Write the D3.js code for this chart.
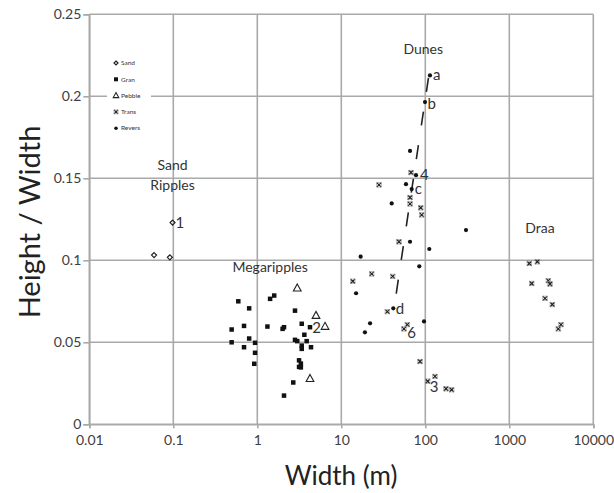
<!DOCTYPE html>
<html><head><meta charset="utf-8">
<script src="https://cdn.jsdelivr.net/npm/d3@7/dist/d3.min.js"></script>
<style>
body{margin:0;background:#fff;}
text{font-family:Lato,"Open Sans",sans-serif;}
</style></head>
<body><svg id="c" width="614" height="493"></svg>
<script>
const xTicks = [0.01, 0.1, 1, 10, 100, 1000, 10000];
const xTickLabels = ["0.01", "0.1", "1", "10", "100", "1000", "10000"];
const yTicks = [0, 0.05, 0.1, 0.15, 0.2, 0.25];
const yTickLabels = ["0", "0.05", "0.1", "0.15", "0.2", "0.25"];

const sand = [[0.059,0.1032],[0.091,0.1018],[0.098,0.123]];
const gran = [[0.594,0.075],[0.80,0.0707],[1.42,0.0765],[1.59,0.0785],[2.81,0.0693],[0.495,0.0578],[0.695,0.060],[1.32,0.0596],[2.00,0.0582],[2.08,0.0592],[3.38,0.0613],[4.24,0.0592],[0.495,0.050],[0.695,0.047],[0.80,0.0523],[0.94,0.0497],[0.94,0.0436],[0.92,0.0369],[2.81,0.0515],[2.99,0.0507],[3.38,0.048],[3.38,0.046],[3.87,0.0507],[3.63,0.0546],[4.36,0.047],[3.14,0.039],[3.3,0.037],[3.14,0.035],[3.3,0.0347],[2.68,0.0255],[2.08,0.0175]];
const pebble = [[2.99,0.083],[5.00,0.0663],[6.40,0.0596],[4.24,0.0278]];
const trans = [[67.6,0.1535],[28.1,0.146],[65.8,0.1383],[65.8,0.1344],[88.2,0.132],[90.6,0.1277],[48.6,0.1113],[23.0,0.0917],[40.9,0.0902],[13.7,0.0872],[35.3,0.0687],[61.1,0.0608],[55.7,0.0582],[86.5,0.0383],[106.9,0.0263],[130.4,0.0292],[176.3,0.0217],[206,0.0211],
  [1730,0.0981],[2155,0.0991],[1848,0.0859],[2912,0.0876],[3052,0.0856],[2661,0.0768],[3250,0.073],[3830,0.0582],[4124,0.0608]];
const revers = [[113.7,0.2127],[99.2,0.1965],[65.8,0.1667],[77.5,0.1519],[58.9,0.1464],[68.9,0.1434],[39.8,0.1347],[305,0.1184],[65.8,0.1113],[111.6,0.1069],[17.0,0.1022],[84.8,0.0963],[15.0,0.0799],[41.6,0.0707],[22.0,0.0616],[96.5,0.0627],[19.1,0.0561]];
const trendLine = [[109,0.2112],[43.0,0.0727]];
const pointLabels = [["1",0.120,0.1229],["2",5.09,0.0589],["3",127,0.0229],["4",97.3,0.152],["6",68.9,0.0559],["a",136.7,0.2134],["b",119,0.1957],["c",82.6,0.1435],["d",50.0,0.0707]];
const regionLabels = [["Sand",0.098,0.1581],["Ripples",0.098,0.1459],["Megaripples",1.42,0.0961],["Dunes",94.6,0.2287],["Draa",2318,0.1195]];
const legendNames = ["Sand","Gran","Pebble","Trans","Revers"];

const svg = d3.select("#c");
const x = d3.scaleLog().domain([0.01,10000]).range([89.3,593.3]);
const y = d3.scaleLinear().domain([0,0.25]).range([424.3,14.3]);
const gridC = "#a9a9a9";
const textC = "#404040";

// gridlines
const g = svg.append("g");
g.selectAll(".vg").data(xTicks).join("line")
  .attr("x1",d=>x(d)).attr("x2",d=>x(d)).attr("y1",y(0)).attr("y2",y(0.25))
  .attr("stroke",gridC).attr("stroke-width",1.6);
g.selectAll(".hg").data(yTicks).join("line")
  .attr("x1",x(0.01)).attr("x2",x(10000)).attr("y1",d=>y(d)).attr("y2",d=>y(d))
  .attr("stroke",gridC).attr("stroke-width",1.6);

// axes
const xa = svg.append("g").attr("transform",`translate(0,${y(0)})`)
  .call(d3.axisBottom(x).tickValues(xTicks).tickSize(4).tickFormat((d,i)=>xTickLabels[i]));
const ya = svg.append("g").attr("transform",`translate(${x(0.01)},0)`)
  .call(d3.axisLeft(y).tickValues(yTicks).tickSize(6).tickFormat((d,i)=>yTickLabels[i]));
[xa,ya].forEach(a=>{
  a.select(".domain").attr("stroke",gridC).attr("stroke-width",1.6);
  a.selectAll(".tick line").attr("stroke",gridC).attr("stroke-width",1.6);
  a.selectAll(".tick text").attr("fill",textC).style("font-size","14px").style("font-family","Lato, sans-serif");
});
xa.selectAll(".tick text").attr("dy","0.95em");
ya.selectAll(".tick text").attr("x",-8);

// axis titles
svg.append("text").attr("x",341).attr("y",485).attr("text-anchor","middle")
  .attr("fill","#222").style("font-size","26px").text("Width (m)");
svg.append("text").attr("transform","translate(40,222) rotate(-90)").attr("text-anchor","middle")
  .attr("fill","#222").style("font-size","29px").text("Height / Width");

// trend dashed line
svg.append("path").datum(trendLine)
  .attr("d",d3.line().x(d=>x(d[0])).y(d=>y(d[1])))
  .attr("stroke","#222").attr("stroke-width",1.6).attr("fill","none").attr("stroke-dasharray","14,20");

// markers
const M = svg.append("g");
function sq(sel,s){ sel.append("rect").attr("x",-s/2).attr("y",-s/2).attr("width",s).attr("height",s).attr("fill","#111"); }
function tri(sel,s){ sel.append("path").attr("d",`M0,${-s*0.6}L${s*0.55},${s*0.4}L${-s*0.55},${s*0.4}Z`).attr("fill","none").attr("stroke","#222").attr("stroke-width",1.1); }
function xm(sel,s){ sel.append("path").attr("d",`M${-s/2},${-s/2}L${s/2},${s/2}M${-s/2},${s/2}L${s/2},${-s/2}`).attr("stroke","#222").attr("stroke-width",1.3);
  sel.append("rect").attr("x",-s/2).attr("y",-s/2).attr("width",s).attr("height",s).attr("fill","none").attr("stroke","#999").attr("stroke-width",0.6); }
function dot(sel,s){ sel.append("circle").attr("r",s/2).attr("fill","#111"); }
function dia(sel,s){ sel.append("path").attr("d",`M0,${-s/2}L${s/2},0L0,${s/2}L${-s/2},0Z`).attr("fill","none").attr("stroke","#222").attr("stroke-width",1.2); }

function plot(data,fn,s){
  M.append("g").selectAll("g").data(data).join("g")
    .attr("transform",d=>`translate(${x(d[0])},${y(d[1])})`)
    .each(function(){ fn(d3.select(this),s); });
}
plot(sand,dia,5);
plot(gran,sq,4.5);
plot(pebble,tri,7);
plot(trans,xm,4.5);
plot(revers,dot,4.2);

// labels
svg.append("g").selectAll("text").data(pointLabels).join("text")
  .attr("x",d=>x(d[1])).attr("y",d=>y(d[2])).attr("text-anchor","middle").attr("dy","0.36em")
  .attr("fill","#333").style("font-size","15px").text(d=>d[0]);
svg.append("g").selectAll("text").data(regionLabels).join("text")
  .attr("x",d=>x(d[1])).attr("y",d=>y(d[2])).attr("text-anchor","middle").attr("dy","0.36em")
  .attr("fill","#333").style("font-size","14px").text(d=>d[0]);

// legend
const L = svg.append("g");
L.append("rect").attr("x",107).attr("y",55).attr("width",44).attr("height",82).attr("fill","#fff");
const lf = [dia,sq,tri,xm,dot];
const ls = [4,4,5,4,3.5];
legendNames.forEach((n,i)=>{
  const yy = 63 + i*16.3;
  const gg = L.append("g").attr("transform",`translate(116,${yy})`);
  lf[i](gg,ls[i]);
  L.append("text").attr("x",121).attr("y",yy).attr("dy","0.35em").attr("fill","#333")
    .style("font-size","6.5px").text(n);
});
</script></body></html>
